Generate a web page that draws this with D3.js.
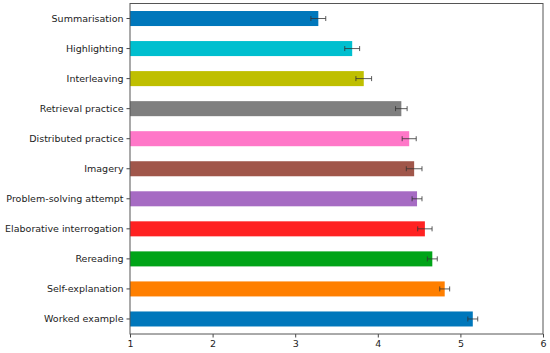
<!DOCTYPE html>
<html lang="en">
<head>
<meta charset="UTF-8">
<script src="https://cdn.jsdelivr.net/npm/d3@7"></script>
<title>strategies</title>
<style>
    body { margin:0; background:white; }
    text { font-family: "DejaVu Sans", sans-serif; font-size: 9.5px; fill: #222; }
</style>
</head>
<body>
<div id="chart"></div>
<script>
    // data, top to bottom
    var strategies = ["Summarisation", "Highlighting", "Interleaving", "Retrieval practice",
        "Distributed practice", "Imagery", "Problem-solving attempt", "Elaborative interrogation",
        "Rereading", "Self-explanation", "Worked example"];
    var means = [3.28, 3.69, 3.83, 4.285, 4.38, 4.44, 4.475, 4.57, 4.66, 4.81, 5.15];
    var errors = [0.09, 0.09, 0.095, 0.07, 0.085, 0.095, 0.06, 0.087, 0.06, 0.06, 0.06];
    var barColors = ["#0077bb", "#00bfcf", "#bfbf00", "#7f7f7f", "#ff77c8", "#a0564a",
        "#a66bc3", "#ff2222", "#00a418", "#ff7f00", "#0077bb"];
    var xTicks = [1, 2, 3, 4, 5, 6];

    var margin = {top: 3.5, right: 7, bottom: 19, left: 130};
    var W = 550, H = 353;
    var width = W - margin.left - margin.right;
    var height = H - margin.top - margin.bottom;

    var svg = d3.select("#chart").append("svg")
        .attr("width", W)
        .attr("height", H)
        .append("g")
        .attr("transform", "translate(" + margin.left + "," + margin.top + ")");

    var x = d3.scaleLinear().domain([1, 6]).range([0, width]);
    var y = d3.scaleBand().domain(strategies).range([0, height])
        .paddingInner(0.5).paddingOuter(0.25);

    var rows = strategies.map(function(s, i) {
        return {name: s, v: means[i], e: errors[i], c: barColors[i]};
    });

    svg.selectAll(".bar").data(rows).enter()
        .append("rect")
        .attr("class", "bar")
        .attr("x", x(1))
        .attr("y", d => y(d.name))
        .attr("width", d => x(d.v) - x(1))
        .attr("height", y.bandwidth())
        .attr("fill", d => d.c);

    // error bars
    var eb = svg.selectAll(".err").data(rows).enter()
        .append("g").attr("class", "err")
        .attr("stroke", "#333").attr("stroke-opacity", 0.8).attr("stroke-width", 1);
    eb.append("line")
        .attr("x1", d => x(d.v - d.e)).attr("x2", d => x(d.v + d.e))
        .attr("y1", d => y(d.name) + y.bandwidth() / 2)
        .attr("y2", d => y(d.name) + y.bandwidth() / 2);
    eb.append("line")
        .attr("x1", d => x(d.v - d.e)).attr("x2", d => x(d.v - d.e))
        .attr("y1", d => y(d.name) + y.bandwidth() / 2 - 2.5)
        .attr("y2", d => y(d.name) + y.bandwidth() / 2 + 2.5);
    eb.append("line")
        .attr("x1", d => x(d.v + d.e)).attr("x2", d => x(d.v + d.e))
        .attr("y1", d => y(d.name) + y.bandwidth() / 2 - 2.5)
        .attr("y2", d => y(d.name) + y.bandwidth() / 2 + 2.5);

    // axes
    var xAxis = svg.append("g")
        .attr("transform", "translate(0," + height + ")")
        .call(d3.axisBottom(x).tickValues(xTicks).tickFormat(d3.format("d")).tickSize(3.5).tickPadding(3));
    var yAxis = svg.append("g")
        .call(d3.axisLeft(y).tickSize(3.5).tickPadding(3));
    [xAxis, yAxis].forEach(function(a) {
        a.select(".domain").remove();
        a.selectAll("line").attr("stroke", "#444");
        a.selectAll("text").style("font-family", "DejaVu Sans").style("font-size", "9.5px").attr("fill", "#222");
    });

    // frame
    svg.append("rect")
        .attr("x", 0).attr("y", 0)
        .attr("width", width).attr("height", height)
        .attr("fill", "none").attr("stroke", "#555").attr("stroke-width", 1);
</script>
</body>
</html>
